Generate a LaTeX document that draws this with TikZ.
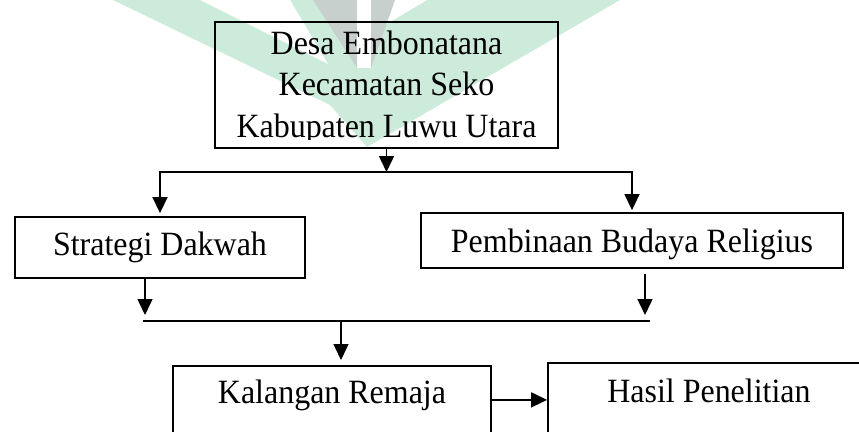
\documentclass[tikz,border=0pt]{standalone}
\usepackage{fontspec}
\setmainfont[FakeStretch=0.94]{Liberation Serif}
\usepackage{xcolor}
\usepackage{tikz}
\usetikzlibrary{arrows.meta}
\definecolor{logohijau}{RGB}{205,235,218}
\definecolor{logoabu}{RGB}{200,208,205}

\begin{document}
\begin{tikzpicture}[x=1pt,y=-1pt,
        huruf/.style={font=\fontsize{34}{41.5}\selectfont},
        kotak/.style={huruf,draw,line width=1.8pt,inner sep=0pt,text height=23pt,text depth=7pt},
        kotakbawah/.style={kotak,anchor=north,text depth=15pt,inner ysep=15pt},
        panah/.style={line width=1.5pt,-{Triangle[length=16pt,width=15pt]}},
        garis/.style={line width=1.5pt}]
        \useasboundingbox (0,0) rectangle (859,431);
        \clip (0,0) rectangle (859,431);
        % logo di latar belakang
        \fill[logohijau] (113,0) -- (620,0) -- (367,147) -- (330,105) -- cycle;
        \fill[white] (200,0) -- (290,0) -- (328,64) -- cycle;
        \fill[white] (393,0) -- (427,0) -- (385,25) -- cycle;
        \fill[white] (357,0) rectangle (371,68);
        \fill[logoabu] (313,0) -- (357,0) -- (357,68) -- cycle;
        \fill[logoabu] (371,0) -- (395,0) -- (371,68) -- cycle;

        \begin{scope}
            \clip (200,0) rectangle (570,139);
            \node[huruf,align=center,inner sep=0pt,minimum width=343pt,minimum height=126pt] (desa) at (386.5,85)
                {\rule{0pt}{28.5pt}Desa Embonatana\\Kecamatan Seko\\Kabupaten Luwu Utara};
        \end{scope}
        \draw[line width=1.8pt] (desa.north west) rectangle (desa.south east);

        \node[kotak,minimum width=290pt,minimum height=61pt] (strategi) at (160,247.5) {Strategi Dakwah};
        \node[kotak,minimum width=422pt,minimum height=55pt,text depth=0pt] (pembinaan) at (632,240.5) {Pembinaan Budaya Religius};
        \node[kotakbawah,minimum width=318pt] (kalangan) at (332,365) {Kalangan Remaja};
        \node[kotakbawah,minimum width=322pt,inner ysep=17pt] (hasil) at (709,362) {Hasil Penelitian};

        \coordinate (cabang) at (387,172);
        \coordinate (kiri) at (145,315);
        \coordinate (kanan) at (645,315);
        \coordinate (gabungkiri) at (143,321);
        \coordinate (gabungkanan) at (650,321);
        \coordinate (gabung) at (341,321);

        \draw[panah] (desa) -- (desa |- cabang);
        \draw[panah,shorten >=3pt] (cabang) -| (strategi);
        \draw[panah,shorten >=2pt] (cabang) -| (pembinaan);
        \draw[panah] (strategi.south -| kiri) -- (kiri);
        \draw[panah,shorten <=5pt] (pembinaan.south -| kanan) -- (kanan);
        \draw[garis] (gabungkiri) -- (gabungkanan);
        \draw[panah,shorten >=5pt] (gabung) -- (gabung |- kalangan.north);
        \draw[panah] (kalangan.east) -- (kalangan.east -| hasil.west);
    \end{tikzpicture}
\end{document}
